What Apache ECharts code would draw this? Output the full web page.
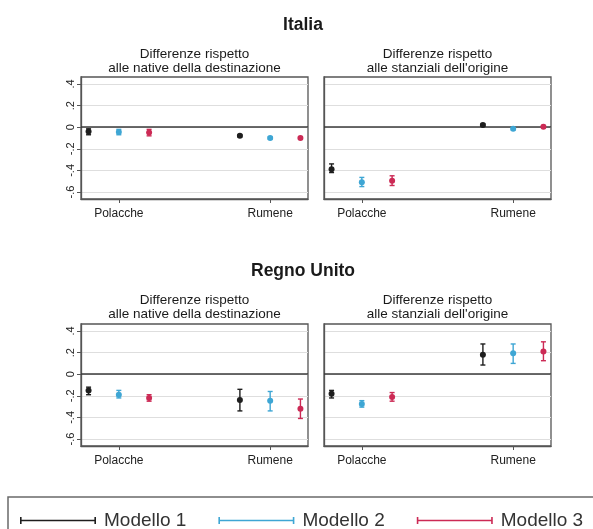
<!DOCTYPE html>
<html>
<head>
<meta charset="utf-8">
<title>Italia / Regno Unito</title>
<script src="https://cdn.jsdelivr.net/npm/echarts@6/dist/echarts.min.js"></script>
<style>
    html, body { margin: 0; padding: 0; background: #fff; }
    #chart { width: 593px; height: 529px; }
</style>
</head>
<body>
<div id="chart"></div>
<script>
    // categorie e modelli
    const categories = ['Polacche', 'Rumene']
    const models = ['Modello 1', 'Modello 2', 'Modello 3']
    const yTickValues = [-0.6, -0.4, -0.2, 0, 0.2, 0.4]
    const yTickLabels = ['-.6', '-.4', '-.2', '0', '.2', '.4']

    // righe = modelli, colonne = categorie
    const itaNatEst = [[-0.04, -0.08], [-0.045, -0.10], [-0.05, -0.10]]
    const itaNatLow = [[-0.07, -0.09], [-0.07, -0.11], [-0.08, -0.11]]
    const itaNatHigh = [[-0.015, -0.07], [-0.02, -0.09], [-0.02, -0.09]]

    const itaOriEst = [[-0.39, 0.02], [-0.51, -0.015], [-0.495, 0.005]]
    const itaOriLow = [[-0.42, 0.01], [-0.55, -0.025], [-0.54, -0.005]]
    const itaOriHigh = [[-0.34, 0.03], [-0.465, -0.005], [-0.45, 0.015]]

    const ukNatEst = [[-0.15, -0.24], [-0.19, -0.245], [-0.22, -0.32]]
    const ukNatLow = [[-0.19, -0.34], [-0.22, -0.34], [-0.25, -0.41]]
    const ukNatHigh = [[-0.12, -0.14], [-0.15, -0.16], [-0.19, -0.23]]

    const ukOriEst = [[-0.18, 0.18], [-0.275, 0.195], [-0.21, 0.21]]
    const ukOriLow = [[-0.22, 0.085], [-0.305, 0.10], [-0.25, 0.125]]
    const ukOriHigh = [[-0.15, 0.28], [-0.245, 0.28], [-0.17, 0.30]]

    const colors = ['#1e1e1e', '#3ea6d4', '#cc2a55']
    const fontFamily = '"Liberation Sans", Arial, sans-serif'

    const panels = [
        { est: itaNatEst, low: itaNatLow, high: itaNatHigh, left: 81, top: 77, labels: true },
        { est: itaOriEst, low: itaOriLow, high: itaOriHigh, left: 324, top: 77, labels: false },
        { est: ukNatEst, low: ukNatLow, high: ukNatHigh, left: 81, top: 324, labels: true },
        { est: ukOriEst, low: ukOriLow, high: ukOriHigh, left: 324, top: 324, labels: false }
    ]

    // posizione sull'asse x: gruppi di tre modelli, tick al centro del gruppo
    const xPos = (g, m) => g * 5 + 1 + m
    const xTicks = categories.map((c, g) => xPos(g, 1))

    function renderItem(params, api) {
        const p = api.coord([api.value(0), api.value(1)])
        const lo = api.coord([api.value(0), api.value(2)])
        const hi = api.coord([api.value(0), api.value(3)])
        const color = api.visual('color')
        const cap = 2.5
        const ls = { stroke: color, lineWidth: 1.4 }
        return {
            type: 'group',
            children: [
                { type: 'line', shape: { x1: lo[0], y1: lo[1], x2: hi[0], y2: hi[1] }, style: ls },
                { type: 'line', shape: { x1: lo[0] - cap, y1: lo[1], x2: lo[0] + cap, y2: lo[1] }, style: ls },
                { type: 'line', shape: { x1: hi[0] - cap, y1: hi[1], x2: hi[0] + cap, y2: hi[1] }, style: ls },
                { type: 'circle', shape: { cx: p[0], cy: p[1], r: 3 }, style: { fill: color } }
            ]
        }
    }

    const grid = [], xAxis = [], yAxis = [], series = []
    panels.forEach((pn, i) => {
        grid.push({
            left: pn.left, top: pn.top, width: 227, height: 122,
            show: true, borderColor: '#555', borderWidth: 1.3, backgroundColor: '#fff'
        })
        xAxis.push({
            type: 'value', gridIndex: i, min: 0.75, max: 8.25,
            axisLine: { show: true, onZero: false, lineStyle: { color: '#555', width: 1.3 } },
            axisTick: { show: true, length: 4, customValues: xTicks, lineStyle: { color: '#555' } },
            axisLabel: {
                customValues: xTicks,
                formatter: v => categories[xTicks.indexOf(v)],
                fontSize: 12, color: '#222', fontFamily: fontFamily, margin: 9
            },
            splitLine: { show: false }
        })
        yAxis.push({
            type: 'value', gridIndex: i, min: -0.665, max: 0.465,
            axisLine: { show: true, onZero: false, lineStyle: { color: '#555', width: 1.3 } },
            axisTick: { show: pn.labels, length: 4, customValues: yTickValues, lineStyle: { color: '#555' } },
            axisLabel: {
                show: pn.labels,
                customValues: yTickValues,
                formatter: v => yTickLabels[yTickValues.indexOf(v)],
                rotate: 90, fontSize: 11, color: '#222', fontFamily: fontFamily, margin: 5
            },
            splitLine: { show: true, lineStyle: { color: '#dedede', width: 1 } }
        })
        models.forEach((name, m) => {
            const data = categories.map((c, g) => [xPos(g, m), pn.est[m][g], pn.low[m][g], pn.high[m][g]])
            const s = {
                name: name,
                type: 'custom',
                xAxisIndex: i,
                yAxisIndex: i,
                renderItem: renderItem,
                itemStyle: { color: colors[m] },
                encode: { x: 0, y: [1, 2, 3] },
                data: data,
                z: 3
            }
            if (m === 0) {
                s.markLine = {
                    silent: true,
                    symbol: 'none',
                    label: { show: false },
                    lineStyle: { color: '#3a3a3a', width: 1.6, type: 'solid' },
                    data: [{ yAxis: 0 }],
                    z: 2
                }
            }
            series.push(s)
        })
    })

    const subNative = 'Differenze rispetto\nalle native della destinazione'
    const subOrigin = "Differenze rispetto\nalle stanziali dell'origine"

    function headText(text, x, y, size, weight) {
        return {
            type: 'text', x: x, y: y, silent: true,
            style: {
                text: text, textAlign: 'center', textVerticalAlign: 'middle',
                font: weight + ' ' + size + 'px ' + fontFamily,
                lineHeight: 14, fill: '#1a1a1a'
            }
        }
    }

    const chart = echarts.init(document.getElementById('chart'), null, { renderer: 'canvas' })
    chart.setOption({
        animation: false,
        backgroundColor: '#fff',
        textStyle: { fontFamily: fontFamily },
        grid: grid,
        xAxis: xAxis,
        yAxis: yAxis,
        legend: {
            data: models,
            left: 15,
            top: 506,
            itemWidth: 76,
            itemHeight: 7,
            itemGap: 32,
            icon: 'path://M0,0H1.6V7H0Z M0,2.8H76V4.2H0Z M74.4,0H76V7H74.4Z',
            textStyle: { fontSize: 19, color: '#333', fontFamily: fontFamily, padding: [0, 0, 0, 3] }
        },
        graphic: [
            headText('Italia', 303, 25, 17.5, 'bold'),
            headText('Regno Unito', 303, 271, 17.5, 'bold'),
            headText(subNative, 194.5, 61, 13.5, 'normal'),
            headText(subOrigin, 437.5, 61, 13.5, 'normal'),
            headText(subNative, 194.5, 307, 13.5, 'normal'),
            headText(subOrigin, 437.5, 307, 13.5, 'normal'),
            {
                type: 'rect', silent: true, z: -1,
                shape: { x: 8, y: 497, width: 620, height: 40 },
                style: { fill: null, stroke: '#6a6a6a', lineWidth: 1.5 }
            }
        ],
        series: series
    })
</script>
</body>
</html>
